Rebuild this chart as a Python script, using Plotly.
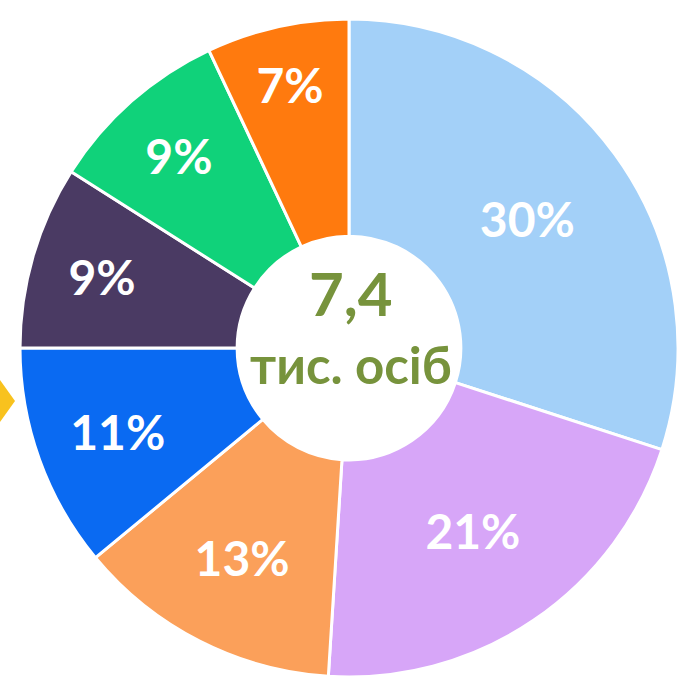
import plotly.graph_objects as go

categories = ["A", "B", "C", "D", "E", "F", "G"]
values = [30, 21, 13, 11, 9, 9, 7]
labels_text = ["30%", "21%", "13%", "11%", "9%", "9%", "7%"]
colors = ["#A3D0F8", "#D7A6F8", "#FBA05A", "#0A6AF2", "#4A3A63", "#10D27A", "#FF7A0E"]
center_value = "7,4"
center_unit = "тис. осіб"

W, H = 678, 683
cx = 351

fig = go.Figure(go.Pie(
    labels=categories,
    values=values,
    text=labels_text,
    textinfo="text",
    textposition="inside",
    insidetextorientation="horizontal",
    sort=False,
    direction="clockwise",
    rotation=0,
    hole=0.34,
    marker=dict(colors=colors, line=dict(color="white", width=3)),
    textfont=dict(family="Lato", size=48, color="white", weight="bold"),
    domain=dict(x=[20 / W, 678 / W], y=[(H - 678) / H, (H - 18) / H]),
    showlegend=False,
    hoverinfo="skip",
))

fig.add_annotation(x=cx / W, y=1 - 293 / H, xref="paper", yref="paper",
                   text="<b>" + center_value + "</b>", showarrow=False,
                   font=dict(family="Lato", size=60, color="#77933C"))
fig.add_annotation(x=cx / W, y=1 - 364 / H, xref="paper", yref="paper",
                   text="<b>" + center_unit + "</b>", showarrow=False,
                   font=dict(family="Lato", size=51, color="#77933C"))

# small gold marker at left edge
fig.add_shape(type="path", xref="paper", yref="paper",
              path=f"M 0 {1-380/H} L {15/W} {1-401/H} L 0 {1-422/H} Z",
              fillcolor="#F8C21E", line=dict(width=0))

fig.update_layout(
    width=W, height=H,
    margin=dict(l=0, r=0, t=0, b=0),
    paper_bgcolor="white",
    plot_bgcolor="white",
    uniformtext=dict(minsize=46, mode="show"),
)

fig.write_html("out.html", config={"displayModeBar": False},
               post_script="document.body.style.margin='0px';")
